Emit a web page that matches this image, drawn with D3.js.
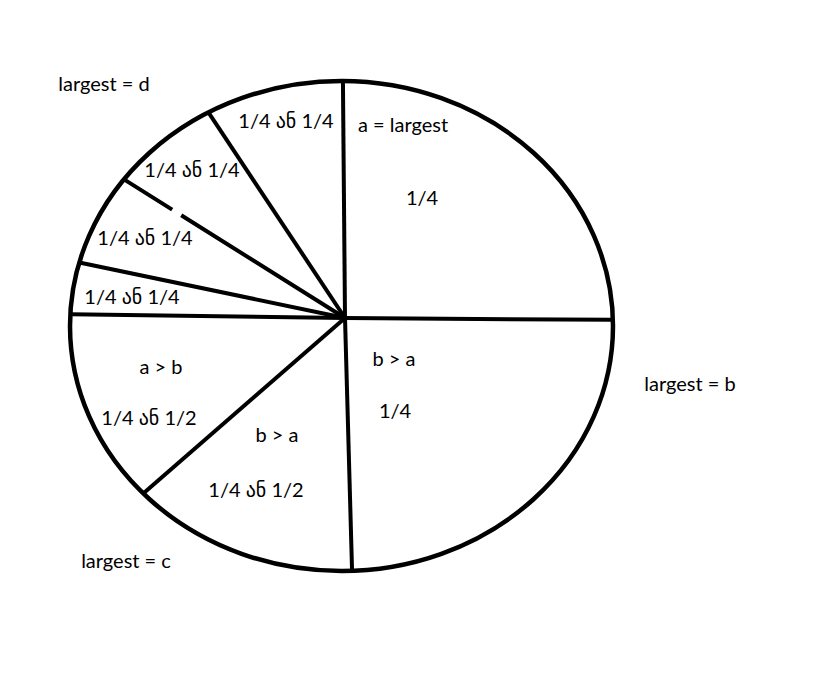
<!DOCTYPE html>
<html>
<head>
<meta charset="utf-8">
<script src="https://cdn.jsdelivr.net/npm/d3@7"></script>
<style>
  html, body { margin: 0; padding: 0; background: #fff; }
  svg { display: block; }
  text { font-family: Lato, "DejaVu Sans", sans-serif; font-size: 20px; fill: #000; }
</style>
</head>
<body>
<svg id="chart" width="824" height="696"></svg>
<script>
// ---- data (slice sizes in degrees, clockwise from 12 o'clock) ----
const sliceNames  = ["A", "B", "C", "D", "E", "F", "G", "H"];
const sliceDegrees = [90.9, 88.0, 50.6, 41.8, 11.0, 20.3, 24.3, 33.1];
const sliceLabels = [
  ["a = largest", "1/4"],
  ["b > a", "1/4"],
  ["b > a", "1/4 ან 1/2"],
  ["a > b", "1/4 ან 1/2"],
  ["1/4 ან 1/4"],
  ["1/4 ან 1/4"],
  ["1/4 ან 1/4"],
  ["1/4 ან 1/4"]
];
const outerLabels = ["largest = d", "largest = b", "largest = c"];

// ---- layout ----
const svg = d3.select("#chart");
const ell = { cx: 341.5, cy: 326, rx: 271.5, ry: 245 };
const hub = { x: 345, y: 318 };
const startDeg = -0.5;
const toRad = d3.scaleLinear().domain([0, 360]).range([0, 2 * Math.PI]);

const pie = d3.pie().sort(null).value(d => d)
  .startAngle(toRad(startDeg)).endAngle(toRad(startDeg + 360));
const arcs = pie(sliceDegrees);

// label positions: per line [center x, baseline y]
const labelPos = [
  [[403, 132], [422, 205]],
  [[394, 366], [395, 418]],
  [[277, 442], [256, 497]],
  [[161, 374], [149, 425]],
  [[132, 304]],
  [[145, 245]],
  [[192, 177]],
  [[286, 128]]
];
const outerPos = [[104, 91], [690, 391], [126, 568]];

function rayEllipse(a) {
  const dx = Math.sin(a), dy = -Math.cos(a);
  const px = hub.x - ell.cx, py = hub.y - ell.cy;
  const A = (dx * dx) / (ell.rx * ell.rx) + (dy * dy) / (ell.ry * ell.ry);
  const B = 2 * ((px * dx) / (ell.rx * ell.rx) + (py * dy) / (ell.ry * ell.ry));
  const C = (px * px) / (ell.rx * ell.rx) + (py * py) / (ell.ry * ell.ry) - 1;
  const t = (-B + Math.sqrt(B * B - 4 * A * C)) / (2 * A);
  return { x: hub.x + t * dx, y: hub.y + t * dy, len: t };
}

// ellipse
svg.append("ellipse")
  .attr("cx", ell.cx).attr("cy", ell.cy)
  .attr("rx", ell.rx).attr("ry", ell.ry)
  .attr("fill", "none").attr("stroke", "#000").attr("stroke-width", 4.5);

// spokes (slice boundaries), drawn from the rim toward the hub
svg.append("g").selectAll("line")
  .data(arcs)
  .join("line")
  .each(function(d, i) {
    const e = rayEllipse(d.startAngle);
    const sel = d3.select(this)
      .attr("x1", e.x).attr("y1", e.y)
      .attr("x2", hub.x).attr("y2", hub.y)
      .attr("stroke", "#000").attr("stroke-width", 4)
      .attr("stroke-linecap", "butt");
    if (sliceNames[i] === "G") {
      const L = e.len;
      const gapStart = L * 0.218, gapEnd = L * 0.259; // measured from rim
      sel.attr("stroke-dasharray", `${gapStart} ${gapEnd - gapStart} ${L}`);
    }
  });

// slice labels
const lg = svg.append("g");
arcs.forEach((d, i) => {
  sliceLabels[i].forEach((txt, j) => {
    const p = labelPos[i][j];
    lg.append("text")
      .attr("x", p[0]).attr("y", p[1])
      .attr("text-anchor", "middle")
      .text(txt);
  });
});

// outer labels
svg.append("g").selectAll("text")
  .data(outerLabels)
  .join("text")
  .attr("x", (d, i) => outerPos[i][0])
  .attr("y", (d, i) => outerPos[i][1])
  .attr("text-anchor", "middle")
  .text(d => d);
</script>
</body>
</html>
